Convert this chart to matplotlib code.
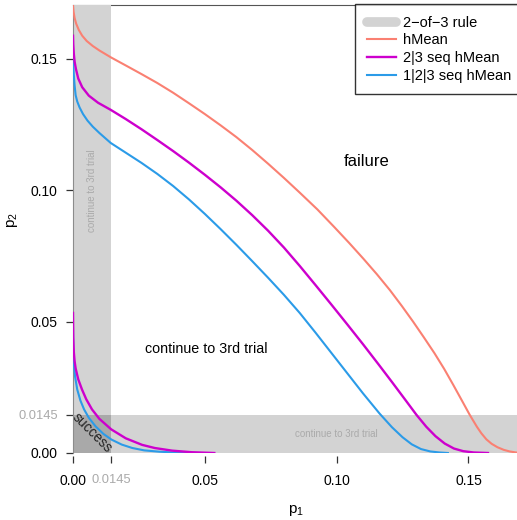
import numpy as np
import matplotlib
matplotlib.use("Agg")
import matplotlib.pyplot as plt
from matplotlib.lines import Line2D
from matplotlib.patches import Rectangle

plt.rcParams['font.family'] = ['Liberation Sans', 'DejaVu Sans']
plt.rcParams['mathtext.fontset'] = 'custom'
plt.rcParams['mathtext.rm'] = 'Liberation Sans'
plt.rcParams['mathtext.it'] = 'Liberation Sans'

# 2-of-3 rule threshold
thr = 0.0145

# boundary curves (p1, p2)
hmean_x = [0.0000, 0.0002, 0.0006, 0.0012, 0.0022, 0.0035, 0.0052, 0.0075, 0.0100, 0.0145,
           0.0200, 0.0260, 0.0320, 0.0380, 0.0440, 0.0500, 0.0560, 0.0620, 0.0680, 0.0740,
           0.0800, 0.0860, 0.0927, 0.0991, 0.1047, 0.1101, 0.1153, 0.1202, 0.1247, 0.1290,
           0.1331, 0.1371, 0.1408, 0.1442, 0.1475, 0.1505, 0.1532, 0.1549, 0.1568, 0.1588,
           0.1610, 0.1634, 0.1656, 0.1680, 0.1705]
hmean_y = [0.1705, 0.1680, 0.1656, 0.1634, 0.1610, 0.1588, 0.1568, 0.1549, 0.1532, 0.1505,
           0.1475, 0.1442, 0.1408, 0.1371, 0.1331, 0.1290, 0.1247, 0.1202, 0.1153, 0.1101,
           0.1047, 0.0991, 0.0927, 0.0860, 0.0800, 0.0740, 0.0680, 0.0620, 0.0560, 0.0500,
           0.0440, 0.0380, 0.0320, 0.0260, 0.0200, 0.0145, 0.0100, 0.0075, 0.0052, 0.0035,
           0.0022, 0.0012, 0.0006, 0.0002, 0.0000]

seq23_up_x = [0.0000, 0.0001, 0.0003, 0.0006, 0.0011, 0.0020, 0.0035, 0.0060, 0.0095, 0.0143,
              0.0200, 0.0260, 0.0320, 0.0380, 0.0440, 0.0500, 0.0560, 0.0620, 0.0680, 0.0740,
              0.0800, 0.0860, 0.0920, 0.0980, 0.1040, 0.1100, 0.1160, 0.1210, 0.1260, 0.1303,
              0.1340, 0.1375, 0.1410, 0.1445, 0.1480, 0.1520, 0.1574]
seq23_up_y = [0.1588, 0.1555, 0.1520, 0.1490, 0.1462, 0.1425, 0.1392, 0.1360, 0.1333, 0.1306,
              0.1271, 0.1232, 0.1191, 0.1149, 0.1105, 0.1059, 0.1011, 0.0960, 0.0905, 0.0846,
              0.0782, 0.0712, 0.0639, 0.0565, 0.0490, 0.0414, 0.0336, 0.0270, 0.0203, 0.0145,
              0.0100, 0.0064, 0.0036, 0.0017, 0.0007, 0.0002, 0.0000]
seq23_lo_x = [0.0000, 0.0001, 0.0003, 0.0006, 0.0010, 0.0020, 0.0034, 0.0050, 0.0072, 0.0100,
              0.0145, 0.0200, 0.0262, 0.0310, 0.0376, 0.0450, 0.0536]
seq23_lo_y = [0.0533, 0.0440, 0.0385, 0.0350, 0.0322, 0.0280, 0.0242, 0.0205, 0.0166, 0.0130,
              0.0090, 0.0056, 0.0031, 0.0019, 0.0009, 0.0003, 0.0000]

seq123_up_x = [0.0000, 0.0001, 0.0003, 0.0006, 0.0010, 0.0016, 0.0025, 0.0038, 0.0055, 0.0075,
               0.0100, 0.0143, 0.0200, 0.0260, 0.0320, 0.0380, 0.0440, 0.0500, 0.0560, 0.0620,
               0.0680, 0.0740, 0.0800, 0.0860, 0.0920, 0.0980, 0.1040, 0.1100, 0.1163, 0.1210,
               0.1250, 0.1285, 0.1320, 0.1355, 0.1390, 0.1422]
seq123_up_y = [0.1502, 0.1478, 0.1440, 0.1400, 0.1362, 0.1338, 0.1315, 0.1290, 0.1265, 0.1242,
               0.1218, 0.1180, 0.1143, 0.1104, 0.1062, 0.1016, 0.0965, 0.0910, 0.0852, 0.0792,
               0.0730, 0.0667, 0.0602, 0.0533, 0.0458, 0.0381, 0.0304, 0.0227, 0.0150, 0.0098,
               0.0060, 0.0033, 0.0015, 0.0006, 0.0002, 0.0000]
seq123_lo_x = [0.0000, 0.0001, 0.0002, 0.0004, 0.0008, 0.0016, 0.0028, 0.0042, 0.0060, 0.0086,
               0.0115, 0.0146, 0.0185, 0.0225, 0.0270, 0.0327, 0.0400, 0.0476]
seq123_lo_y = [0.0476, 0.0410, 0.0370, 0.0332, 0.0290, 0.0242, 0.0200, 0.0166, 0.0134, 0.0101,
               0.0073, 0.0051, 0.0032, 0.0019, 0.0010, 0.0005, 0.0001, 0.0000]

xticks = [0.0, 0.05, 0.10, 0.15]
yticks = [0.0, 0.05, 0.10, 0.15]
tick_labels = ['0.00', '0.05', '0.10', '0.15']

col_rule = '#d3d3d3'
col_both = '#a9a9a9'
col_hmean = '#fa8072'
col_23 = '#cd00cd'
col_123 = '#2b9be8'

fig = plt.figure(figsize=(5.17, 5.20), dpi=100)
ax = fig.add_axes([73 / 517, 67 / 520, 445 / 517, 448 / 520])
xmax, ymax = 0.1688, 0.1705
ax.set_xlim(0, xmax)
ax.set_ylim(0, ymax)

# shaded 2-of-3 regions
ax.add_patch(Rectangle((0, 0), thr, ymax, color=col_rule, lw=0, zorder=2.6))
ax.add_patch(Rectangle((0, 0), xmax, thr, color=col_rule, lw=0, zorder=2.6))
ax.add_patch(Rectangle((0, 0), thr, thr, color=col_both, lw=0, zorder=2.7))

ax.plot(hmean_x, hmean_y, color=col_hmean, lw=1.5, zorder=4)
ax.plot(seq123_up_x, seq123_up_y, color=col_123, lw=1.5, zorder=4)
ax.plot(seq123_lo_x, seq123_lo_y, color=col_123, lw=1.5, zorder=4)
ax.plot(seq23_up_x, seq23_up_y, color=col_23, lw=1.7, zorder=4.5)
ax.plot(seq23_lo_x, seq23_lo_y, color=col_23, lw=1.7, zorder=4.5)

# region labels
ax.text(0.0506, 0.0396, 'continue to 3rd trial', fontsize=10.3, ha='center', va='center', zorder=5)
ax.text(0.1114, 0.1108, 'failure', fontsize=12, ha='center', va='center', zorder=5)
ax.text(0.0074, 0.0076, 'success', fontsize=10, ha='center', va='center',
        rotation=-45, rotation_mode='anchor', zorder=5, color='#222222')
ax.text(thr / 2, 0.10, 'continue to 3rd trial', fontsize=7, ha='center', va='center',
        rotation=90, color='#aaaaaa', zorder=5)
ax.text(0.10, thr / 2, 'continue to 3rd trial', fontsize=7, ha='center', va='center',
        color='#aaaaaa', zorder=5)

# axes frame
for s in ['right', 'bottom']:
    ax.spines[s].set_visible(False)
ax.spines['top'].set_color('#555555')
ax.spines['left'].set_color('#8c8c8c')
ax.spines['left'].set_zorder(3)
ax.spines['bottom'].set_position(('outward', 2))

ax.set_xticks(xticks[:1] + [thr] + xticks[1:])
ax.set_xticklabels(tick_labels[:1] + ['0.0145'] + tick_labels[1:])
ax.set_yticks(yticks[:1] + [thr] + yticks[1:])
ax.set_yticklabels(tick_labels[:1] + ['0.0145'] + tick_labels[1:])
ax.tick_params(axis='both', direction='out', length=5, width=0.9, color='#333333',
               labelsize=10)
ax.tick_params(axis='x', pad=8)
ax.tick_params(axis='y', pad=6)
for lab in ax.get_xticklabels() + ax.get_yticklabels():
    if lab.get_text() == '0.0145':
        lab.set_color('#aaaaaa')
        lab.set_fontsize(9.3)
ax.xaxis.get_major_ticks()[1].tick1line.set_color('#aaaaaa')
ax.yaxis.get_major_ticks()[1].tick1line.set_color('#aaaaaa')

# axis titles
fig.text(296 / 517, 1 - 511 / 520, r'$\mathregular{p_1}$', fontsize=11, ha='center', va='center')
fig.text(13 / 517, 1 - 220 / 520, r'$\mathregular{p_2}$', fontsize=11, ha='center', va='center',
         rotation=90)

handles = [Line2D([], [], color=col_rule, lw=7, solid_capstyle='round'),
           Line2D([], [], color=col_hmean, lw=1.5),
           Line2D([], [], color=col_23, lw=1.7),
           Line2D([], [], color=col_123, lw=1.5)]
labels = ['2\u2212of\u22123 rule', 'hMean', '2|3 seq hMean', '1|2|3 seq hMean']
leg = fig.legend(handles, labels, loc='upper left',
                 bbox_to_anchor=(355 / 517, 1 - 4 / 520, 175 / 517, 0), mode='expand',
                 fontsize=10.5, frameon=True, fancybox=False, borderpad=0.8,
                 handlelength=2.0, handletextpad=0.5, labelspacing=0.25,
                 borderaxespad=0)
leg.get_frame().set_edgecolor('black')
leg.get_frame().set_linewidth(1.0)

fig.savefig('out.png', dpi=100)
